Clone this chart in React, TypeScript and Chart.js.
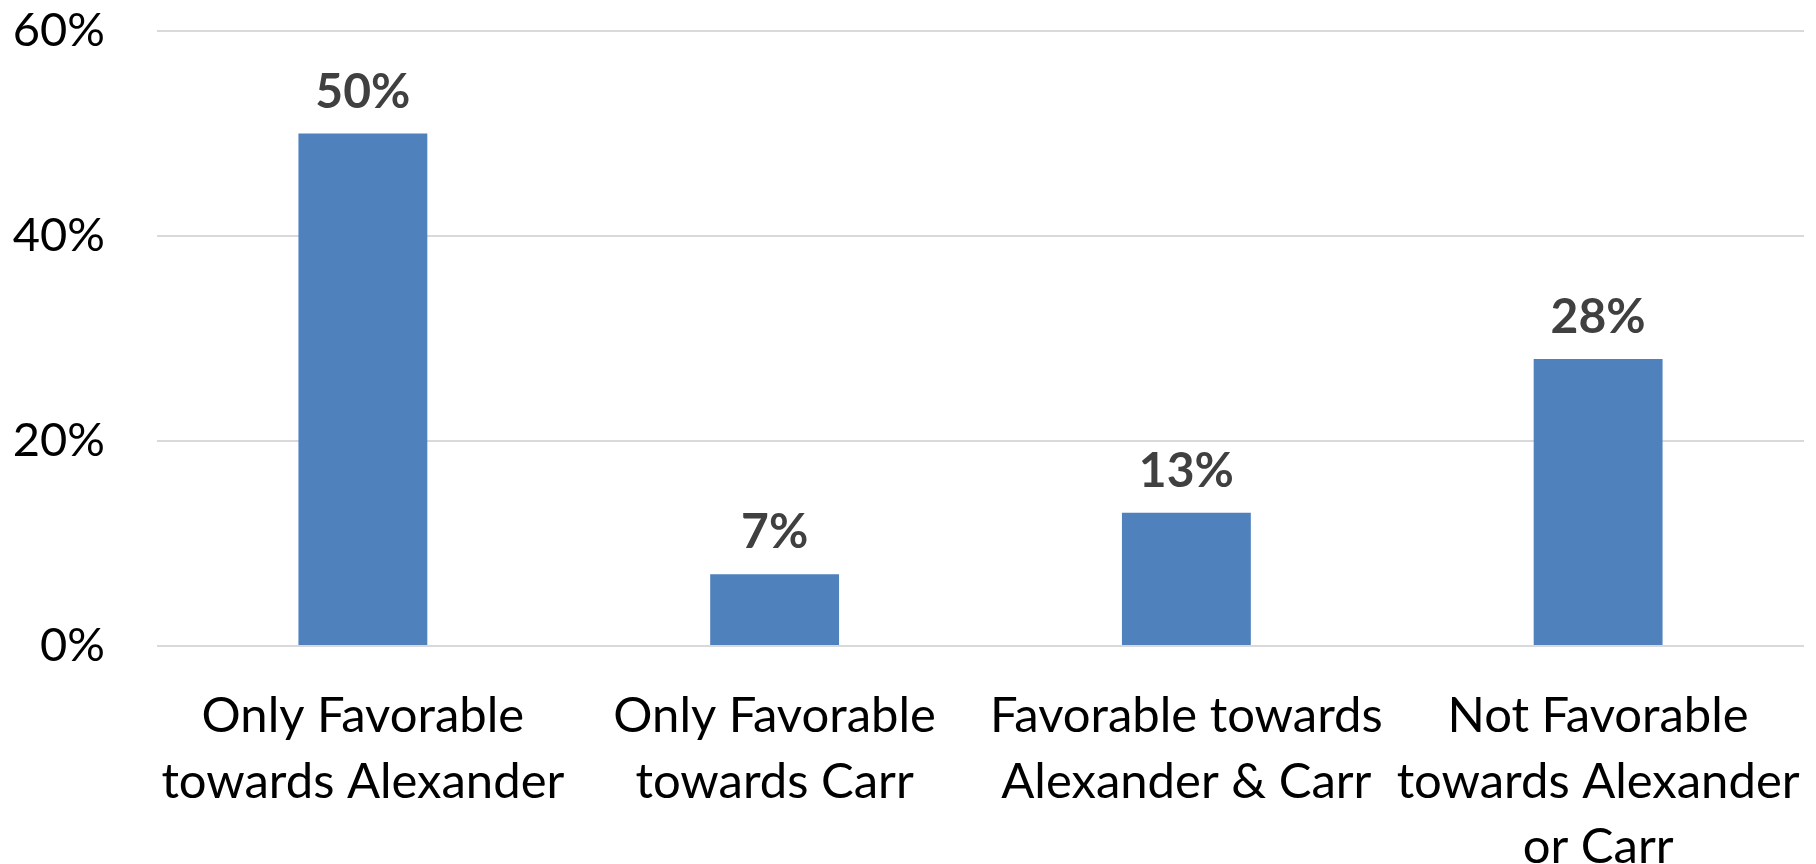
import React, { useEffect, useRef } from "react";
import { Chart, registerables } from "chart.js";

Chart.register(...registerables);

const categories: string[][] = [
  ["Only Favorable", "towards Alexander"],
  ["Only Favorable", "towards Carr"],
  ["Favorable towards", "Alexander & Carr"],
  ["Not Favorable", "towards Alexander", "or Carr"],
];
const values: number[] = [0.5, 0.07, 0.13, 0.28];
const yTicks: number[] = [0, 0.2, 0.4, 0.6];

const FONT = "Lato, 'Open Sans', sans-serif";

const valueLabelPlugin = {
  id: "valueLabels",
  afterDatasetsDraw(chart: any) {
    const ctx = chart.ctx;
    const meta = chart.getDatasetMeta(0);
    ctx.save();
    ctx.font = `bold 48px ${FONT}`;
    ctx.fillStyle = "#404040";
    ctx.textAlign = "center";
    ctx.textBaseline = "alphabetic";
    meta.data.forEach((bar: any, i: number) => {
      const v = chart.data.datasets[0].data[i] as number;
      ctx.fillText(`${Math.round(v * 100)}%`, bar.x, bar.y - 26);
    });
    ctx.restore();
  },
};

export default function App() {
  const ref = useRef<HTMLCanvasElement | null>(null);
  useEffect(() => {
    document.body.style.margin = "0";
    if (!ref.current) return;
    const chart = new Chart(ref.current, {
      type: "bar",
      data: {
        labels: categories,
        datasets: [
          {
            data: values,
            backgroundColor: "#4F81BD",
            borderWidth: 0,
            barPercentage: 1,
            categoryPercentage: 0.313,
          },
        ],
      },
      options: {
        animation: false,
        responsive: false,
        layout: { padding: { top: 31, right: 12, bottom: 0, left: 0 } },
        plugins: {
          legend: { display: false },
          tooltip: { enabled: false },
        },
        scales: {
          x: {
            grid: {
              display: true,
              drawOnChartArea: false,
              drawTicks: true,
              tickLength: 38,
              tickColor: "rgba(0,0,0,0)",
              color: "rgba(0,0,0,0)",
            },
            border: { display: false },
            ticks: {
              color: "#000000",
              font: { family: FONT, size: 49, lineHeight: 1.33 },
              padding: 0,
              maxRotation: 0,
              minRotation: 0,
              autoSkip: false,
            },
            afterFit: (scale: any) => {
              scale.height = 864 - 646;
            },
          },
          y: {
            min: 0,
            max: 0.6,
            afterBuildTicks: (scale: any) => {
              scale.ticks = yTicks.map((v) => ({ value: v }));
            },
            grid: {
              color: "#D9D9D9",
              lineWidth: 2,
              drawTicks: true,
              tickLength: 52,
              tickColor: "rgba(0,0,0,0)",
            },
            border: { display: false },
            ticks: {
              color: "#000000",
              font: { family: FONT, size: 47 },
              padding: 0,
              callback: (v: any) => `${Math.round(Number(v) * 100)}%`,
            },
            afterFit: (scale: any) => {
              scale.width = 157;
            },
          },
        },
      },
      plugins: [valueLabelPlugin],
    });
    return () => chart.destroy();
  }, []);
  return (
    <div style={{ width: 1816, height: 864 }}>
      <canvas ref={ref} width={1816} height={864} />
    </div>
  );
}
